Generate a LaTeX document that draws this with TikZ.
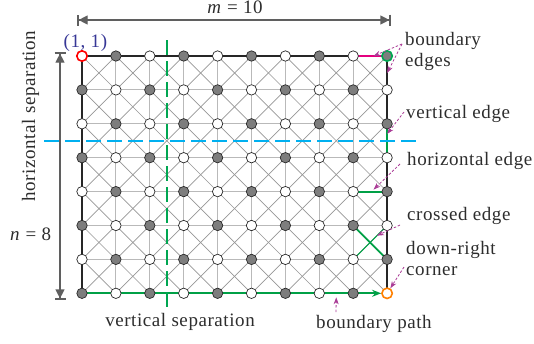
\documentclass[tikz,border=0pt]{standalone}
\usepackage{fontspec}
\setmainfont{Liberation Serif}[LetterSpace=3]
\usetikzlibrary{arrows.meta,calc}
\pgfdeclarelayer{bg}
\pgfsetlayers{bg,main}
\definecolor{txtgray}{RGB}{45,45,45}
\definecolor{dimgray}{RGB}{95,95,95}
\definecolor{nodegray}{RGB}{125,125,125}
\definecolor{outl}{RGB}{40,40,40}
\definecolor{gridc}{RGB}{185,185,185}
\definecolor{diagc}{RGB}{150,150,150}
\definecolor{cyanc}{RGB}{0,176,240}
\definecolor{greend}{RGB}{0,166,81}
\definecolor{greene}{RGB}{0,160,70}
\definecolor{magc}{RGB}{228,0,127}
\definecolor{annc}{RGB}{170,60,150}
\definecolor{ringred}{RGB}{255,0,0}
\definecolor{ringorange}{RGB}{255,128,0}
\definecolor{bluetxt}{RGB}{55,55,150}
\begin{document}
\begin{tikzpicture}[x=1pt,y=-1pt,
  gnode/.style={circle,draw=outl,fill=nodegray,line width=0.7pt,minimum size=10.4pt,inner sep=0pt},
  wnode/.style={circle,draw=outl,fill=white,line width=0.7pt,minimum size=10.4pt,inner sep=0pt},
  ring 1-1/.style={draw=ringred,line width=1.6pt},
  ring 10-1/.style={draw=greend,line width=1.6pt},
  ring 10-8/.style={draw=ringorange,line width=1.6pt},
  gridline/.style={draw=gridc,line width=1.1pt},
  diagline/.style={draw=diagc,line width=0.7pt},
  bline/.style={draw=black!85,line width=1.8pt},
  gline/.style={draw=greene,line width=1.8pt},
  sepline/.style={line width=2.6pt,dash pattern=on 15pt off 6pt},
  dimline/.style={draw=dimgray,line width=1.2pt,
    {Bar[width=11pt,line width=1.6pt]Triangle[length=9pt,width=9pt]}-{Triangle[length=9pt,width=9pt]Bar[width=11pt,line width=1.6pt]}},
  annarrow/.style={draw=annc,line width=0.8pt,dash pattern=on 2.5pt off 1.8pt,-{Stealth[length=7pt,width=5pt]}},
  txt/.style={text=txtgray,inner sep=0pt,font=\fontsize{19}{20.5}\selectfont}
]
\useasboundingbox (0,0) rectangle (534,343);

% lattice nodes
\foreach \i in {1,...,10}{\foreach \j in {1,...,8}{
  \ifodd\numexpr\i+\j\relax\def\sty{gnode}\else\def\sty{wnode}\fi
  \edef\tmp{\noexpand\node[\sty, ring \i-\j/.try] (n-\i-\j) at ({82+(\i-1)*33.9},{56+(\j-1)*33.9}) {};}
  \tmp
}}

\begin{pgfonlayer}{bg}
  % orthogonal grid
  \foreach \j in {1,...,8} \draw[gridline] (n-1-\j.center) -- (n-10-\j.center);
  \foreach \i in {1,...,10} \draw[gridline] (n-\i-1.center) -- (n-\i-8.center);
  % crosses
  \foreach \i [evaluate=\i as \ii using int(\i+1)] in {1,...,9}{
    \foreach \j [evaluate=\j as \jj using int(\j+1)] in {1,...,7}{
      \draw[diagline] (n-\i-\j.center) -- (n-\ii-\jj.center);
      \draw[diagline] (n-\i-\jj.center) -- (n-\ii-\j.center);
  }}
  % boundary
  \draw[bline] (n-9-1.center) -- (n-1-1.center) -- (n-1-8.center);
  \draw[bline] (n-10-1.center) -- (n-10-8.center);
  \draw[draw=magc,line width=1.8pt] (n-9-1.center) -- (n-10-1.center);
  \draw[gline,-{Stealth[length=9pt,width=7pt]}] (n-1-8.center) -- (n-10-8);
  \draw[gline] (n-10-3.center) -- (n-10-4.center);
  \draw[gline] (n-9-5.center) -- (n-10-5.center);
  \draw[gline] (n-9-6.center) -- (n-10-7.center);
  \draw[draw=greene,line width=0.9pt] (n-9-7.center) -- (n-10-6.center);
\end{pgfonlayer}

% separations
\coordinate (hs-l) at (44,141);
\coordinate (hs-r) at (420,141);
\coordinate (vs-t) at (167,40);
\coordinate (vs-b) at (167,309);
\draw[sepline,draw=cyanc] (hs-l) -- (hs-r);
\draw[sepline,draw=greend] (vs-t) -- (vs-b);

% dimensions
\coordinate (dm-l) at (77,20);
\coordinate (dm-r) at (391,20);
\coordinate (dn-t) at (60,52);
\coordinate (dn-b) at (60,300);
\draw[dimline] (dm-l) -- (dm-r);
\draw[dimline] (dn-t) -- (dn-b);
\node[txt,anchor=base] (mlab) at (235,13.5) {\textit{m} = 10};
\node[txt,anchor=base west] (nlab) at (10,240.5) {\textit{n} = 8};
\node[txt,anchor=base,rotate=90] (hslab) at (35,116) {horizontal separation};
\node[txt,anchor=base] (vslab) at (180,326.7) {vertical separation};
\node[txt,anchor=base west,text=bluetxt] (start) at (63.5,47.5) {(1, 1)};

% annotations
\node[txt,anchor=north west,align=left] (lbe) at (405,32.5) {boundary\\edges};
\node[txt,anchor=base west] (lve) at (406,118.3) {vertical edge};
\node[txt,anchor=base west] (lhe) at (407,165) {horizontal edge};
\node[txt,anchor=base west] (lce) at (407,220.7) {crossed edge};
\node[txt,anchor=north west,align=left] (ldr) at (406,241.5) {down-right\\corner};
\node[txt,anchor=base west] (lbp) at (316,328.3) {boundary path};

\coordinate (a-be) at (402,44);
\draw[annarrow] (a-be) -- ($(n-9-1)!0.6!(n-10-1)$);
\draw[annarrow] (a-be) -- ($(n-10-1)!0.5!(n-10-2)$);
\coordinate (a-ve) at (404,112);
\draw[annarrow] (a-ve) -- ($(n-10-3)!0.3!(n-10-4)$);
\coordinate (a-he) at (400,164);
\draw[annarrow] (a-he) -- ($(n-9-5)!0.6!(n-10-5)+(0,-2)$);
\coordinate (a-ce) at (400,225);
\draw[annarrow] (a-ce) -- ($(n-9-7)!0.7!(n-10-6)$);
\coordinate (a-dr) at (404,267);
\draw[annarrow] (a-dr) -- (n-10-8);
\coordinate (a-bp) at (336,312);
\draw[annarrow] (a-bp) -- ($(n-8-8)!0.5!(n-9-8)+(0,4)$);
\end{tikzpicture}
\end{document}
